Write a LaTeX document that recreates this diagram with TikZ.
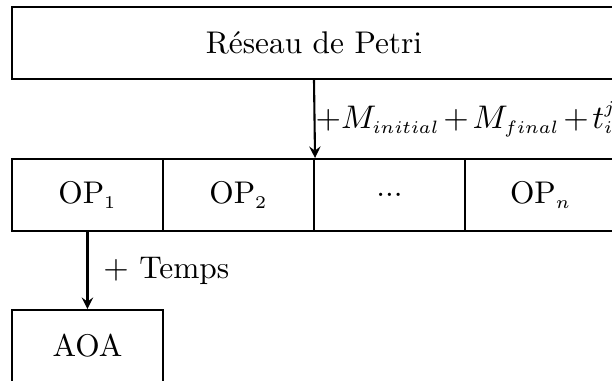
\documentclass[tikz,border=0pt]{standalone}
\usepackage{amsmath,amssymb}
\usepackage{xcolor}
\usepackage{tikz}
\usetikzlibrary{shapes,positioning}
\DeclareMathSizes{10.5}{10.5}{6}{5}
\tikzset{boite/.style={rectangle,draw,line width=0.7pt,minimum height=0.847cm,minimum width=1.776cm,inner sep=0pt}}

\begin{document}
\begin{tikzpicture}[>=stealth,font=\fontsize{10.5}{12.6}\selectfont]
    \useasboundingbox (0,0) rectangle (7.2,-4.482);
    \node[boite,minimum width=7.106cm] (pn)at (3.694,-0.506) {Réseau de Petri};
    \node[boite] (op1)at (1.029,-2.294) {OP$_1$};
    \node[boite] (op2)at (2.806,-2.294) {OP$_2$};
    \node[boite] (opi)at (4.582,-2.294) {...};
    \node[boite] (opn)at (6.359,-2.294) {OP$_n$};
    \node[boite] (aoa)at (1.029,-4.071) {AOA};

    \draw [line width=0.7pt,->] (pn.south) to node[right,inner sep=0pt]{$\medmuskip=2mu+M_{initial}+M_{final}+t_i^j$} (op2.north east);
    \draw [line width=0.7pt,->] (op1) to node[right,inner sep=5pt]{$+$ Temps} (aoa);
\end{tikzpicture}
\end{document}
